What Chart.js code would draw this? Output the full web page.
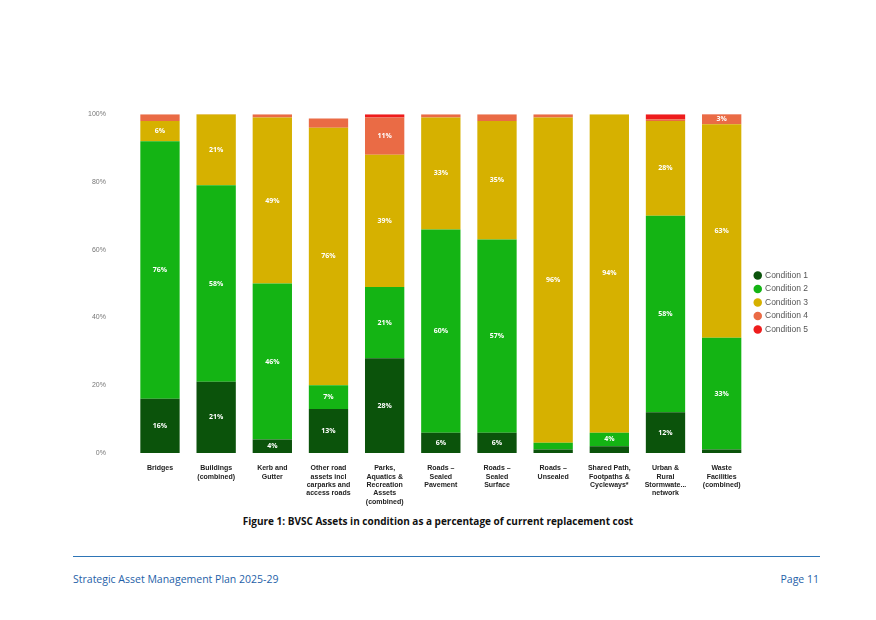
<!DOCTYPE html>
<html><head><meta charset="utf-8">
<script src="https://cdn.jsdelivr.net/npm/chart.js@4"></script>
<style>
  body { margin:0; width:876px; height:620px; background:#fff; font-family:"Open Sans", sans-serif; position:relative; }
  #wrap { position:absolute; left:70px; top:92px; width:748px; height:417px; }
  .cap { position:absolute; top:514px; left:0; width:876px; text-align:center; font-size:10px; font-weight:bold; color:#111; }
  .rule { position:absolute; top:556px; left:73px; width:747px; border-top:1px solid #2e75b6; }
  .foot { position:absolute; top:572px; font-size:10.5px; color:#1f5fa8; }
</style></head>
<body>
<div id="wrap"><canvas id="c"></canvas></div>
<div class="cap">Figure 1: BVSC Assets in condition as a percentage of current replacement cost</div>
<div class="rule"></div>
<div class="foot" style="left:73px">Strategic Asset Management Plan 2025-29</div>
<div class="foot" style="right:57px">Page 11</div>
<script>
/* Categorías y porcentajes */
const categories = [
  ['Bridges'], ['Buildings', '(combined)'], ['Kerb and', 'Gutter'],
  ['Other road', 'assets incl', 'carparks and', 'access roads'],
  ['Parks,', 'Aquatics &', 'Recreation', 'Assets', '(combined)'],
  ['Roads –', 'Sealed', 'Pavement'], ['Roads –', 'Sealed', 'Surface'],
  ['Roads –', 'Unsealed'], ['Shared Path,', 'Footpaths &', 'Cycleways*'],
  ['Urban &', 'Rural', 'Stormwate...', 'network'], ['Waste', 'Facilities', '(combined)']
];
const condition1 = [16, 21, 4, 13, 28, 6, 6, 1, 2, 12, 1];
const condition2 = [76, 58, 46, 7, 21, 60, 57, 2, 4, 58, 33];
const condition3 = [6, 21, 49, 76, 39, 33, 35, 96, 94, 28, 63];
const condition4 = [2, 0.5, 1, 2.7, 11, 1, 2, 1, 0, 0.5, 3];
const condition5 = [0, 0.5, 0, 0, 1, 0, 0, 0, 0, 1.5, 0.5];
const yTicks = [0, 20, 40, 60, 80, 100];

const colors = ['#0b530b', '#14b414', '#d6b100', '#ea6b45', '#ee1c1c'];

/* Etiquetas blancas dentro de cada segmento (>= 3%) */
const segLabels = {
  id: 'segLabels',
  afterDatasetsDraw(chart) {
    const ctx = chart.ctx;
    ctx.save();
    ctx.font = "bold 7px 'Open Sans', sans-serif";
    ctx.fillStyle = '#fff';
    ctx.textAlign = 'center';
    ctx.textBaseline = 'middle';
    chart.data.datasets.forEach((ds, i) => {
      chart.getDatasetMeta(i).data.forEach((bar, j) => {
        const v = ds.data[j];
        if (v < 3) return;
        ctx.fillText(Math.round(v) + '%', bar.x, (bar.y + bar.base) / 2);
      });
    });
    ctx.restore();
  }
};

new Chart(document.getElementById('c'), {
  type: 'bar',
  data: {
    labels: categories,
    datasets: [condition1, condition2, condition3, condition4, condition5].map((d, i) => ({
      label: 'Condition ' + (i + 1),
      data: d,
      backgroundColor: colors[i],
      barPercentage: 0.7,
      categoryPercentage: 1,
    })),
  },
  options: {
    responsive: true,
    maintainAspectRatio: false,
    animation: false,
    layout: { padding: { top: 4, right: 0 } },
    plugins: {
      legend: {
        position: 'right',
        labels: {
          usePointStyle: true, pointStyle: 'circle', boxWidth: 6, boxHeight: 6,
          padding: 5, color: '#555', font: { size: 8.5 }
        }
      },
      tooltip: { enabled: false },
    },
    scales: {
      x: {
        stacked: true,
        grid: { display: false },
        border: { display: false },
        ticks: { color: '#222', font: { size: 7, weight: 'bold' }, maxRotation: 0, autoSkip: false },
      },
      y: {
        stacked: true,
        min: 0, max: 100,
        afterBuildTicks: (ax) => { ax.ticks = yTicks.map(v => ({ value: v })); },
        grid: { display: false },
        border: { display: false },
        ticks: { color: '#777', font: { size: 7 }, padding: 18, callback: v => v + '%' },
      },
    },
  },
  plugins: [segLabels],
});
</script>
</body></html>
